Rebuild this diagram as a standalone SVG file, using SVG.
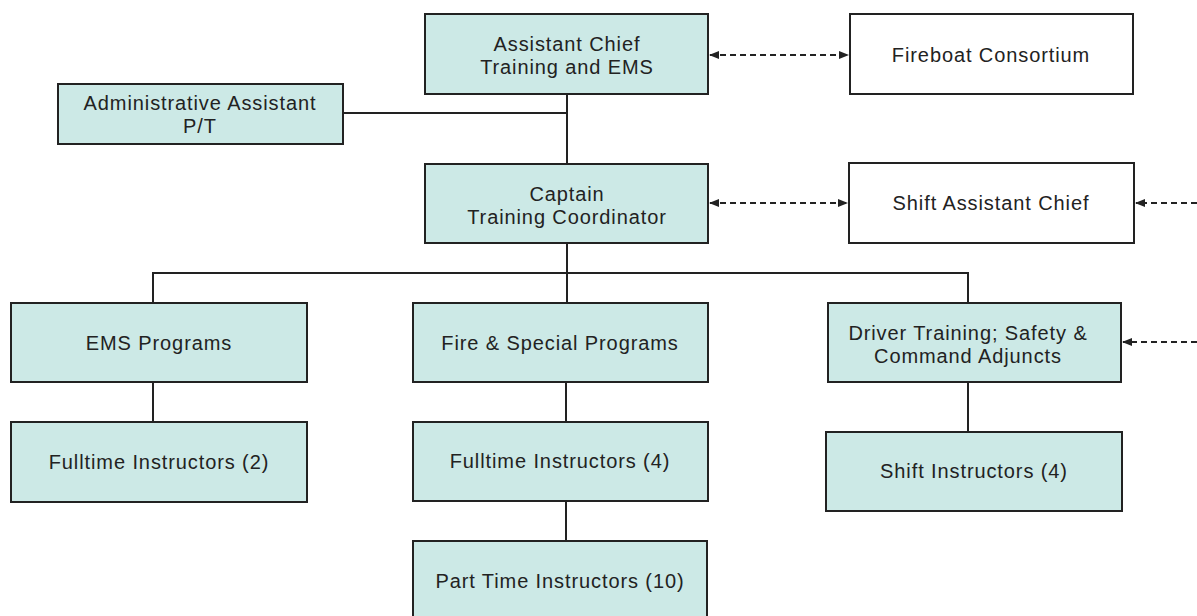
<svg xmlns="http://www.w3.org/2000/svg" width="1197" height="616" viewBox="0 0 1197 616">
<defs>
<style>
.box{fill:#cce9e6;stroke:#222;stroke-width:2}
.wbox{fill:#fff;stroke:#222;stroke-width:2}
.t{font-family:"Liberation Sans",Arial,sans-serif;font-size:20px;fill:#222;text-anchor:middle;letter-spacing:0.9px}
.ln{stroke:#222;stroke-width:2;fill:none}
.dl{stroke:#222;stroke-width:2;fill:none;stroke-dasharray:6 4}
</style>
<marker id="ah" viewBox="0 0 10 10" refX="9" refY="5" markerWidth="5" markerHeight="5" orient="auto-start-reverse" markerUnits="strokeWidth">
<path d="M0,1 L10,5 L0,9 Z" fill="#222"/>
</marker>
</defs>
<rect width="1197" height="616" fill="#fff"/>
<g id="connectors">
<line class="ln" x1="567" y1="94" x2="567" y2="164"/>
<line class="ln" x1="343" y1="113" x2="567" y2="113"/>
<line class="ln" x1="567" y1="243" x2="567" y2="303"/>
<polyline class="ln" points="153,303 153,273 968,273 968,303"/>
<line class="ln" x1="153" y1="382" x2="153" y2="422"/>
<line class="ln" x1="566" y1="382" x2="566" y2="422"/>
<line class="ln" x1="566" y1="501" x2="566" y2="541"/>
<line class="ln" x1="968" y1="382" x2="968" y2="432"/>
<line class="dl" x1="710" y1="55" x2="848" y2="55" marker-start="url(#ah)" marker-end="url(#ah)"/>
<line class="dl" x1="710" y1="203" x2="847" y2="203" marker-start="url(#ah)" marker-end="url(#ah)"/>
<line class="dl" x1="1197" y1="203" x2="1136" y2="203" marker-end="url(#ah)"/>
<line class="dl" x1="1197" y1="342" x2="1123" y2="342" marker-end="url(#ah)"/>
</g>
<g id="assistant-chief">
<rect class="box" x="425" y="14" width="283" height="80"/>
<text class="t" x="567" y="51">Assistant Chief</text>
<text class="t" x="567" y="74">Training and EMS</text>
</g>
<g id="fireboat">
<rect class="wbox" x="850" y="14" width="283" height="80"/>
<text class="t" x="991" y="62">Fireboat Consortium</text>
</g>
<g id="admin-assistant">
<rect class="box" x="58" y="84" width="285" height="60"/>
<text class="t" x="200" y="110">Administrative Assistant</text>
<text class="t" x="200" y="133">P/T</text>
</g>
<g id="captain">
<rect class="box" x="425" y="164" width="283" height="79"/>
<text class="t" x="567" y="201">Captain</text>
<text class="t" x="567" y="224">Training Coordinator</text>
</g>
<g id="shift-assistant-chief">
<rect class="wbox" x="849" y="163" width="285" height="80"/>
<text class="t" x="991" y="210">Shift Assistant Chief</text>
</g>
<g id="ems-programs">
<rect class="box" x="11" y="303" width="296" height="79"/>
<text class="t" x="159" y="350">EMS Programs</text>
</g>
<g id="fire-special">
<rect class="box" x="413" y="303" width="295" height="79"/>
<text class="t" x="560" y="350">Fire &amp; Special Programs</text>
</g>
<g id="driver-training">
<rect class="box" x="828" y="303" width="293" height="79"/>
<text class="t" x="968" y="340">Driver Training; Safety &amp;</text>
<text class="t" x="968" y="363">Command Adjuncts</text>
</g>
<g id="fulltime-2">
<rect class="box" x="11" y="422" width="296" height="80"/>
<text class="t" x="159" y="469">Fulltime Instructors (2)</text>
</g>
<g id="fulltime-4">
<rect class="box" x="413" y="422" width="295" height="79"/>
<text class="t" x="560" y="468">Fulltime Instructors (4)</text>
</g>
<g id="shift-instructors">
<rect class="box" x="826" y="432" width="296" height="79"/>
<text class="t" x="974" y="478">Shift Instructors (4)</text>
</g>
<g id="part-time">
<rect class="box" x="413" y="541" width="294" height="80"/>
<text class="t" x="560" y="588">Part Time Instructors (10)</text>
</g>
</svg>
